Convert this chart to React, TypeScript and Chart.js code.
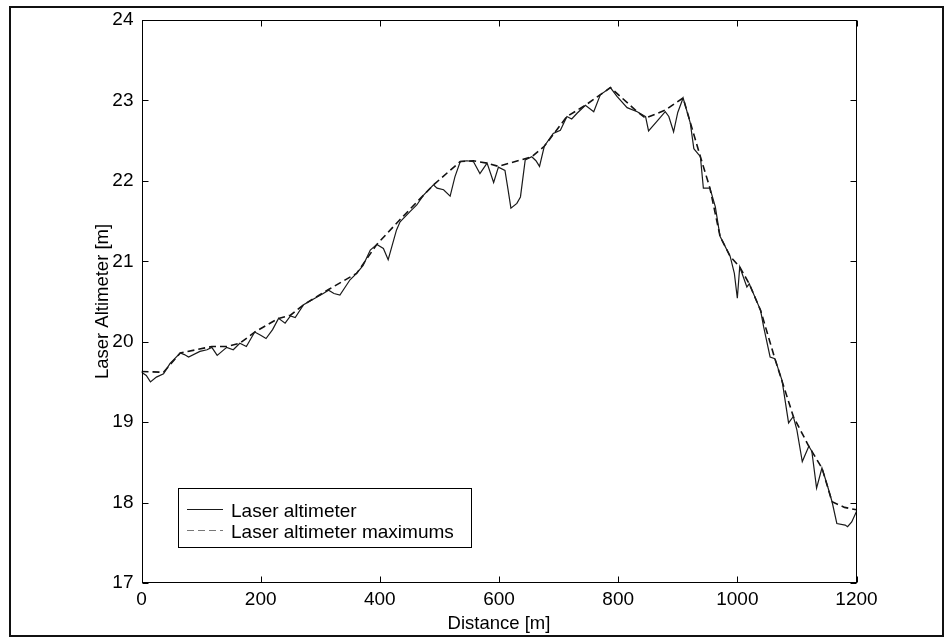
import React, { useEffect, useRef } from "react";
import { Chart, registerables } from "chart.js";

Chart.register(...registerables);

// Laser altimeter profile (distance [m], altitude [m])
const altDistance = [
  0, 8, 15, 25, 37, 48, 57, 65, 72, 79, 98, 110, 118, 127, 135, 143, 154, 165, 176, 190,
  200, 209, 220, 230, 241, 250, 258, 272, 291, 305, 314, 323, 333, 350, 361, 372, 384, 395, 406, 414,
  428, 434, 451, 462, 473, 490, 496, 507, 518, 526, 535, 546, 557, 568, 580, 591, 599, 610, 615, 620,
  630, 636, 644, 655, 662, 668, 676, 691, 703, 714, 722, 731, 745, 759, 770, 787, 798, 815, 832, 846,
  851, 865, 879, 885, 893, 900, 909, 921, 927, 938, 943, 954, 963, 971, 988, 995, 1000, 1004, 1016, 1020,
  1039, 1044, 1055, 1063, 1075, 1086, 1094, 1100, 1109, 1120, 1125, 1133, 1142, 1150, 1159, 1167, 1181, 1185, 1192, 1200,
];
const altValues = [
  19.62, 19.58, 19.5, 19.56, 19.6, 19.73, 19.8, 19.86, 19.84, 19.81, 19.88, 19.9, 19.93, 19.83, 19.88, 19.93, 19.9, 19.98, 19.94, 20.12,
  20.08, 20.04, 20.15, 20.29, 20.23, 20.32, 20.3, 20.46, 20.54, 20.6, 20.64, 20.6, 20.58, 20.77, 20.85, 20.95, 21.14, 21.21, 21.16, 21.02,
  21.39, 21.49, 21.62, 21.7, 21.82, 21.95, 21.91, 21.89, 21.81, 22.05, 22.24, 22.25, 22.24, 22.09, 22.22, 21.98, 22.17, 22.13, 21.9, 21.66,
  21.72, 21.8, 22.26, 22.3, 22.25, 22.18, 22.43, 22.59, 22.63, 22.8, 22.77, 22.84, 22.94, 22.86, 23.07, 23.16, 23.05, 22.91, 22.86, 22.8,
  22.62, 22.74, 22.86, 22.8, 22.61, 22.85, 23.03, 22.72, 22.4, 22.3, 21.91, 21.91, 21.68, 21.31, 21.06, 20.85, 20.54, 20.93, 20.68, 20.72,
  20.39, 20.19, 19.81, 19.79, 19.52, 18.99, 19.07, 18.9, 18.51, 18.7, 18.64, 18.18, 18.43, 18.24, 18.01, 17.74, 17.72, 17.7, 17.76, 17.89,
];

// Laser altimeter maximums (upper envelope)
const maxDistance = [
  0, 37, 65, 118, 143, 165, 190, 230, 250, 272, 314, 361, 395, 434, 490, 535, 557, 580, 599, 655,
  676, 714, 745, 787, 832, 846, 879, 909, 938, 954, 971, 988, 1004, 1020, 1039, 1063, 1094, 1120, 1142, 1159,
  1180, 1200,
];
const maxValues = [
  19.63, 19.62, 19.86, 19.94, 19.94, 19.98, 20.12, 20.29, 20.33, 20.46, 20.65, 20.85, 21.21, 21.52, 21.95, 22.24, 22.25, 22.22, 22.18, 22.3,
  22.43, 22.8, 22.94, 23.16, 22.86, 22.78, 22.88, 23.03, 22.3, 21.91, 21.31, 21.06, 20.93, 20.72, 20.39, 19.79, 19.07, 18.7, 18.43, 18.01,
  17.94, 17.91,
];

const xTicks = [0, 200, 400, 600, 800, 1000, 1200];
const yTicks = [17, 18, 19, 20, 21, 22, 23, 24];

const seriesNames = ["Laser altimeter", "Laser altimeter maximums"];
const FONT = "Liberation Sans, Arial, Helvetica, sans-serif";

const framePlugin = {
  id: "matlabFrame",
  afterDatasetsDraw(chart: any) {
    const { ctx, chartArea, scales } = chart;
    const xs = scales.x;
    const ys = scales.y;
    const L = Math.round(chartArea.left) + 0.5;
    const R = Math.round(chartArea.right) - 0.5;
    const T = Math.round(chartArea.top) + 0.5;
    const B = Math.round(chartArea.bottom) - 0.5;
    ctx.save();
    ctx.strokeStyle = "#000";
    ctx.lineWidth = 1;
    ctx.setLineDash([]);
    ctx.strokeRect(L, T, R - L, B - T);
    ctx.beginPath();
    const tl = 6;
    for (const v of xTicks) {
      const px = Math.round(xs.getPixelForValue(v)) + 0.5;
      ctx.moveTo(px, B);
      ctx.lineTo(px, B - tl);
      ctx.moveTo(px, T);
      ctx.lineTo(px, T + tl);
    }
    for (const v of yTicks) {
      const py = Math.round(ys.getPixelForValue(v)) + 0.5;
      ctx.moveTo(L, py);
      ctx.lineTo(L + tl, py);
      ctx.moveTo(R, py);
      ctx.lineTo(R - tl, py);
    }
    ctx.stroke();

    // Legend box (inside the axes, lower left)
    const lx = 178.5, ly = 488.5, lw = 293, lh = 59;
    ctx.fillStyle = "#fff";
    ctx.fillRect(lx, ly, lw, lh);
    ctx.strokeRect(lx, ly, lw, lh);
    const rows = [509.5, 530.5];
    chart.data.datasets.forEach((ds: any, i: number) => {
      ctx.beginPath();
      ctx.strokeStyle = i === 0 ? ds.borderColor : "#777";
      ctx.lineWidth = i === 0 ? 1 : 1.2;
      ctx.setLineDash(ds.borderDash || []);
      ctx.moveTo(187, rows[i]);
      ctx.lineTo(223, rows[i]);
      ctx.stroke();
      ctx.setLineDash([]);
      ctx.fillStyle = "#000";
      ctx.font = `19px ${FONT}`;
      ctx.textBaseline = "alphabetic";
      ctx.textAlign = "left";
      ctx.fillText(ds.label, 231, rows[i] + 7);
    });
    ctx.restore();
  },
};

export default function App() {
  const canvasRef = useRef<HTMLCanvasElement | null>(null);

  useEffect(() => {
    const canvas = canvasRef.current;
    if (!canvas) return;
    const chart = new Chart(canvas, {
      type: "line",
      data: {
        datasets: [
          {
            label: seriesNames[0],
            data: altDistance.map((d, i) => ({ x: d, y: altValues[i] })),
            borderColor: "#1a1a1a",
            borderWidth: 1.2,
            pointRadius: 0,
            tension: 0,
            fill: false,
          },
          {
            label: seriesNames[1],
            data: maxDistance.map((d, i) => ({ x: d, y: maxValues[i] })),
            borderColor: "#111",
            borderWidth: 1.6,
            borderDash: [7, 4],
            pointRadius: 0,
            tension: 0,
            fill: false,
          },
        ],
      },
      options: {
        responsive: false,
        animation: false,
        devicePixelRatio: 1,
        layout: { padding: { left: 88, top: 20, right: 90.5, bottom: 0 } },
        plugins: {
          legend: { display: false },
          tooltip: { enabled: false },
        },
        scales: {
          x: {
            type: "linear",
            min: 0,
            max: 1200,
            afterBuildTicks: (scale: any) => {
              scale.ticks = xTicks.map((v) => ({ value: v }));
            },
            afterFit: (scale: any) => {
              scale.height = 57;
            },
            grid: { display: false, drawTicks: false },
            border: { display: false },
            ticks: {
              color: "#000",
              font: { family: FONT, size: 19 },
              padding: 5,
              maxRotation: 0,
              callback: (v: any) => String(v),
            },
            title: {
              display: true,
              text: "Distance [m]",
              color: "#000",
              font: { family: FONT, size: 18.5 },
              padding: { top: 0, bottom: 5 },
            },
          },
          y: {
            type: "linear",
            min: 17,
            max: 24,
            afterBuildTicks: (scale: any) => {
              scale.ticks = yTicks.map((v) => ({ value: v }));
            },
            afterFit: (scale: any) => {
              scale.width = 53.5;
            },
            grid: { display: false, drawTicks: false },
            border: { display: false },
            ticks: {
              color: "#000",
              font: { family: FONT, size: 19 },
              padding: 8,
              callback: (v: any) => String(v),
            },
            title: {
              display: true,
              text: "Laser Altimeter [m]",
              color: "#000",
              font: { family: FONT, size: 18.5 },
              padding: { top: 4, bottom: 0 },
            },
          },
        },
      },
      plugins: [framePlugin],
    });
    return () => chart.destroy();
  }, []);

  return (
    <div style={{ position: "fixed", left: 0, top: 0, width: 947, height: 640, background: "#fff" }}>
      <canvas
        ref={canvasRef}
        width={947}
        height={640}
        style={{ position: "absolute", left: 0, top: 0, width: 947, height: 640, display: "block" }}
      />
      <div
        style={{
          position: "absolute",
          left: 9,
          top: 6,
          width: 935,
          height: 631,
          border: "2px solid #111",
          boxSizing: "border-box",
          pointerEvents: "none",
        }}
      />
    </div>
  );
}
